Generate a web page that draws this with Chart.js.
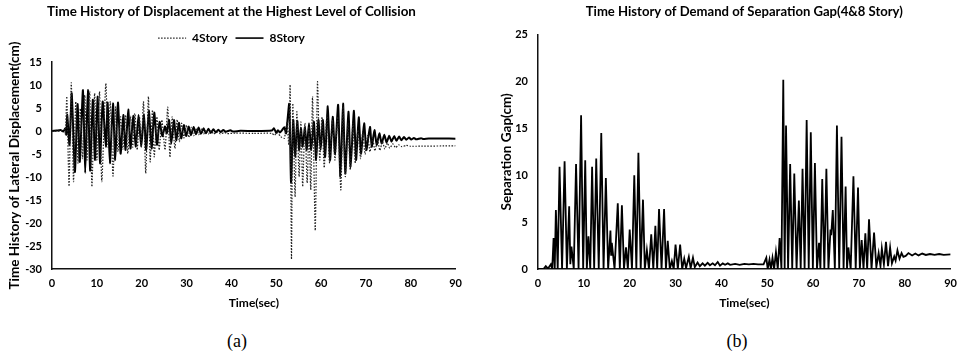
<!DOCTYPE html>
<html>
<head>
<meta charset="utf-8">
<script src="https://cdn.jsdelivr.net/npm/chart.js@4.4.1/dist/chart.umd.min.js"></script>
<style>
  body { margin: 0; background: #fff; width: 965px; height: 362px; position: relative; overflow: hidden; }
  #boxA { position: absolute; left: 0; top: 0; width: 470px; height: 320px; }
  #boxB { position: absolute; left: 480px; top: 0; width: 485px; height: 320px; }
  .cap { position: absolute; top: 331px; font-family: "Liberation Serif", "DejaVu Serif", serif; font-size: 18px; line-height: 20px; transform: translateX(-50%); }
</style>
</head>
<body>
<div id="boxA"><canvas id="dispChart" width="470" height="320"></canvas></div>
<div id="boxB"><canvas id="gapChart" width="485" height="320"></canvas></div>
<div class="cap" style="left:237px">(a)</div>
<div class="cap" style="left:737px">(b)</div>
<script>
// time (sec), value pairs
const story4 = [[0,0],[2,0],[2.8,0.3],[3.0,-0.8],[3.3,7.5],[3.8,-12.0],[4.3,10.5],[4.8,-11.0],[5.3,6.4],[5.8,-7.0],
  [6.3,4.9],[6.8,-6.0],[7.3,7.8],[7.8,-6.3],[8.4,8.6],[8.9,-12.1],[9.5,8.2],[10.0,-6.3],[10.6,8.6],[11.1,-11.0],
  [12.0,10.4],[12.5,-3.5],[13.0,6.4],[13.6,-9.8],[14.2,5.3],[14.7,-4.5],[15.3,3.1],[15.8,-4.0],[16.4,3.5],[16.9,-4.9],
  [17.5,3.2],[18.0,-3.5],[18.5,3.8],[19.0,-4.1],[19.5,3.1],[19.9,-3.5],[20.4,6.4],[20.9,-9.2],[21.5,7.5],[21.9,-6.7],
  [22.4,4.6],[22.8,-5.6],[23.4,3.1],[23.9,-4.1],[24.5,2.4],[25.2,-4.1],[25.8,5.2],[26.3,-5.7],[26.8,3.1],[27.4,-3.8],
  [27.9,2.5],[28.4,-2.3],[28.9,1.7],[29.4,-1.5],[30.0,1.3],[30.5,-1.4],[31.1,0.8],[31.6,-1.0],[32.2,0.6],[32.7,-0.8],
  [33.3,0.4],[33.8,-0.7],[34.4,0.2],[34.9,-0.6],[35.5,0.1],[36.0,-0.6],[37.0,-0.2],[37.5,-0.6],[38.5,-0.3],[39.0,-0.55],
  [41,-0.45],[45,-0.5],[49,-0.5],[49.6,-0.9],[50.2,-0.3],[51.0,-1.2],[51.8,-1.6],[52.4,2.0],[52.8,-3.0],[53.1,10.0],
  [53.4,-27.9],[53.7,6.0],[54.2,-14.3],[54.6,4.2],[55.1,-9.9],[55.5,2.0],[55.9,-12.1],[56.4,1.7],[56.9,-11.3],[57.3,1.0],
  [57.7,-12.8],[58.1,7.5],[58.7,-21.6],[59.2,10.7],[59.7,-6.3],[60.2,3.1],[60.7,-8.0],[61.3,3.5],[61.9,-7.0],[62.5,2.4],
  [63.1,-6.3],[63.7,3.1],[64.4,-12.8],[64.9,5.3],[65.4,-9.9],[66.0,1.7],[66.5,-8.5],[67.1,1.7],[67.6,-7.0],[68.2,0.2],
  [68.8,-6.0],[69.3,-0.1],[69.8,-5.0],[70.4,-1.0],[70.9,-4.5],[71.5,-1.5],[72.0,-4.3],[72.6,-2.0],[73.1,-4.2],[73.7,-2.3],
  [74.2,-3.9],[74.8,-2.6],[75.3,-3.7],[76.0,-2.8],[76.6,-3.6],[77.3,-3.0],[78.0,-3.4],[79.0,-3.1],[80.0,-3.3],[90,-3.2]];

const story8 = [[0,0],[1,0.1],[2,0.2],[2.5,-0.1],[3.0,0.6],[3.2,-0.8],[3.4,3.5],[3.9,-3.0],[4.4,8.2],[5.1,-8.9],
  [5.7,5.9],[6.2,-6.7],[6.9,8.9],[7.4,-9.1],[8.0,8.9],[8.5,-8.6],[9.1,6.8],[9.6,-6.3],[10.2,7.5],[10.7,-7.0],
  [11.3,6.4],[12.0,-3.4],[12.4,6.2],[12.9,-7.0],[13.6,6.0],[14.1,-6.3],[14.7,6.2],[15.3,-4.9],[15.9,3.5],[16.4,-4.1],
  [17.0,4.7],[17.5,-3.8],[18.1,3.3],[18.7,-3.4],[19.3,3.5],[19.9,-3.4],[20.5,3.5],[21.0,-4.1],[21.6,4.4],[22.2,-3.8],
  [22.8,4.0],[23.4,-3.0],[24.0,2.0],[24.6,-1.1],[25.2,1.0],[25.6,-0.5],[26.1,2.4],[26.6,-2.7],[27.2,2.4],[27.7,-2.0],
  [28.3,1.8],[28.8,-1.6],[29.4,1.3],[29.9,-1.1],[30.5,1.0],[31.0,-0.9],[31.6,0.9],[32.1,-0.7],[32.7,0.8],[33.2,-0.6],
  [33.8,0.6],[34.3,-0.5],[34.9,0.5],[35.4,-0.4],[36.0,0.4],[36.5,-0.3],[37.1,0.3],[37.6,-0.2],[38.2,0.25],[38.7,-0.15],
  [39.8,0.15],[40.3,-0.1],[42,0.05],[45,0],[49,0.1],[49.5,0.6],[50.0,-0.4],[50.4,0.2],[50.8,-0.3],[51.3,0.2],
  [51.8,0.8],[52.2,-0.5],[52.9,5.9],[53.3,-11.2],[53.8,2.4],[54.2,-5.6],[54.7,2.2],[55.1,-4.1],[55.5,0.6],[55.9,-3.4],
  [56.4,0.8],[56.8,-4.1],[57.3,1.7],[57.8,-4.1],[58.4,2.0],[58.9,-6.3],[59.4,2.4],[59.9,-4.1],[60.4,2.4],[60.9,-5.6],
  [61.5,5.4],[62.0,-6.3],[62.6,3.1],[63.1,-4.9],[63.8,5.7],[64.3,-9.9],[64.9,6.0],[65.4,-9.2],[66.1,4.2],[66.6,-7.8],
  [67.3,4.4],[67.8,-6.3],[68.4,3.0],[68.9,-4.9],[69.6,1.7],[70.1,-4.1],[70.9,0.9],[71.3,-3.4],[71.9,0.2],[72.4,-3.0],
  [73.0,-0.5],[73.5,-2.7],[74.1,-0.8],[74.6,-2.5],[75.2,-1.0],[75.7,-2.3],[76.3,-1.1],[76.8,-2.1],[77.4,-1.2],[77.9,-2.0],
  [78.5,-1.3],[79.0,-1.9],[79.6,-1.4],[80.1,-1.85],[80.7,-1.5],[81.2,-1.8],[82.3,-1.55],[82.8,-1.75],[84,-1.6],[90,-1.65]];

const gapDemand = [[0,0],[1.2,0],[1.7,0.3],[2.2,0.05],[2.8,0.5],[3.1,0],[3.4,3.3],[3.65,0],[3.9,6.3],[4.3,0],
  [4.7,10.9],[5.25,0],[5.8,11.5],[6.3,0],[6.8,6.7],[7.05,0.5],[7.3,2.4],[7.8,0],[8.3,11.2],[8.85,0],
  [9.4,16.4],[9.85,0],[10.3,11.6],[10.65,0],[11.0,3.5],[11.4,0],[11.8,10.9],[12.25,0],[12.7,11.8],[13.25,0],
  [13.8,14.5],[14.3,0],[14.8,9.7],[15.3,0],[15.8,4.1],[15.95,1.5],[16.1,2.8],[16.7,0],[17.4,7.0],[17.85,0],
  [18.3,6.8],[18.75,0],[19.2,2.3],[19.6,0],[20.0,4.2],[20.5,0],[21.0,10.0],[21.45,0],[21.9,12.4],[22.4,0],
  [22.9,7.4],[23.3,0],[23.75,2.0],[24.2,0],[24.7,3.7],[25.15,0],[25.6,4.6],[26.0,0],[26.4,6.4],[26.95,0],
  [27.5,6.4],[27.9,0],[28.3,3.0],[28.75,0],[29.2,0.85],[29.6,0],[30.0,2.6],[30.5,0],[31.0,2.6],[31.45,0],
  [31.9,1.1],[32.3,0.1],[32.9,1.3],[33.3,0.1],[33.8,1.2],[34.2,0.2],[34.8,0.7],[35.3,0.3],[35.9,0.6],[36.4,0.35],
  [37.0,0.65],[37.5,0.4],[38.1,0.6],[38.6,0.4],[39.2,0.75],[39.7,0.35],[40.3,0.6],[40.8,0.45],[41.4,0.6],[41.9,0.45],
  [43,0.55],[44,0.45],[45,0.55],[46,0.5],[47,0.55],[48,0.5],[49.2,0.5],[49.8,1.2],[50.1,0],[50.5,1.0],
  [50.8,0],[51.15,1.2],[51.5,0],[51.9,1.8],[52.3,0],[52.7,3.3],[53.1,0],[53.5,20.2],[53.8,0],[54.1,15.3],
  [54.55,0],[55.0,11.2],[55.45,0],[55.9,10.2],[56.4,0],[56.9,7.3],[57.3,0],[57.7,10.7],[58.15,0],[58.6,15.9],
  [59.05,0],[59.5,14.6],[59.95,0],[60.4,11.3],[60.85,0],[61.3,2.8],[61.6,0],[62.0,9.6],[62.45,0],[62.9,10.7],
  [63.35,0],[63.8,4.2],[63.95,3.6],[64.3,6.3],[64.75,0],[65.2,15.3],[65.7,0],[66.2,14.1],[66.65,0],[67.1,8.8],
  [67.4,0],[67.7,2.3],[68.2,0],[68.8,9.9],[69.3,0],[69.8,8.7],[70.2,0],[70.6,3.1],[71.0,0],[71.4,3.8],
  [71.8,0],[72.2,5.3],[72.75,0],[73.3,3.9],[73.8,0.2],[74.3,1.7],[74.7,0.3],[75.0,2.2],[75.45,0.5],[75.9,2.9],
  [76.35,0.3],[76.8,2.3],[77.2,0.6],[77.7,1.35],[78.0,0.9],[78.4,2.0],[78.85,1.1],[79.3,1.7],[79.7,1.3],[80.2,1.4],
  [80.8,1.7],[81.6,1.45],[82.3,1.65],[83.0,1.45],[83.8,1.65],[84.6,1.5],[85.5,1.6],[86.5,1.5],[87.5,1.6],[88.5,1.5],[90,1.55]];

const timeTicks = [0, 10, 20, 30, 40, 50, 60, 70, 80, 90];
const dispTicks = [-30, -25, -20, -15, -10, -5, 0, 5, 10, 15];
const gapTicks = [0, 5, 10, 15, 20, 25];

Chart.defaults.font.family = 'Lato, "Open Sans", sans-serif';
Chart.defaults.font.weight = 'bold';
Chart.defaults.color = '#000';
Chart.defaults.animation = false;

const toXY = pairs => pairs.map(p => ({ x: p[0], y: p[1] }));
const fixTicks = values => scale => { scale.ticks = values.map(v => ({ value: v })); };

function axis(ticks, title, width, titleSize, titlePad) {
    return {
        type: 'linear',
        min: ticks[0],
        max: ticks[ticks.length - 1],
        afterBuildTicks: fixTicks(ticks),
        afterFit: s => { if (width) s.width = width; else s.height = 45; },
        grid: { display: false, drawTicks: false },
        border: { display: true, color: '#111', width: 1.5 },
        ticks: { padding: width ? 10 : 8, font: { size: 11 } },
        title: { display: true, text: title, font: { size: titleSize }, padding: titlePad }
    };
}

// legend samples drawn as line pieces with the dataset's own dash
function lineLabels(chart) {
    return Chart.defaults.plugins.legend.labels.generateLabels(chart).map(item => {
        const ds = chart.data.datasets[item.datasetIndex];
        item.lineDash = ds.borderDash || [];
        item.lineWidth = Math.min(ds.borderWidth, 1.6);
        item.strokeStyle = ds.borderColor;
        return item;
    });
}

new Chart(document.getElementById('dispChart'), {
    type: 'line',
    data: {
        datasets: [
            {
                label: '4Story',
                data: toXY(story4),
                borderColor: '#222',
                borderWidth: 1.2,
                borderDash: [1.5, 1.5],
                pointRadius: 0,
                pointStyle: 'line',
                tension: 0.2
            },
            {
                label: '8Story',
                data: toXY(story8),
                borderColor: '#000',
                borderWidth: 2,
                pointRadius: 0,
                pointStyle: 'line',
                tension: 0.2
            }
        ]
    },
    options: {
        responsive: false,
        layout: { padding: { left: 0, right: 7, top: 0, bottom: 6 } },
        scales: {
            x: axis(timeTicks, 'Time(sec)', 0, 12, { top: 0, bottom: 4 }),
            y: axis(dispTicks, 'Time History of Lateral Displacement(cm)', 52, 13.5, { top: 7, bottom: 0 })
        },
        plugins: {
            title: {
                display: true,
                text: 'Time History of Displacement at the Highest Level of Collision',
                font: { size: 13.4 },
                padding: { top: 4, bottom: 4 }
            },
            subtitle: { display: true, text: '', weight: 500, font: { size: 1 }, padding: { top: 6.8, bottom: 0 } },
            legend: {
                display: true,
                labels: { usePointStyle: true, pointStyleWidth: 28, padding: 8, font: { size: 12 }, generateLabels: lineLabels }
            },
            tooltip: { enabled: false }
        }
    }
});

new Chart(document.getElementById('gapChart'), {
    type: 'line',
    data: {
        datasets: [{
            label: 'Gap',
            data: toXY(gapDemand),
            borderColor: '#000',
            borderWidth: 1.8,
            pointRadius: 0,
            tension: 0
        }]
    },
    options: {
        responsive: false,
        layout: { padding: { left: 0, right: 9, top: 0, bottom: 6 } },
        scales: {
            x: axis(timeTicks, 'Time(sec)', 0, 12, { top: 0, bottom: 4 }),
            y: axis(gapTicks, 'Separation Gap(cm)', 58, 13.5, { top: 19, bottom: 0 })
        },
        plugins: {
            title: {
                display: true,
                fullSize: false,
                text: 'Time History of Demand of Separation Gap(4&8 Story)',
                font: { size: 13.1 },
                padding: { top: 4, bottom: 15 }
            },
            legend: { display: false },
            tooltip: { enabled: false }
        }
    }
});
</script>
</body>
</html>
